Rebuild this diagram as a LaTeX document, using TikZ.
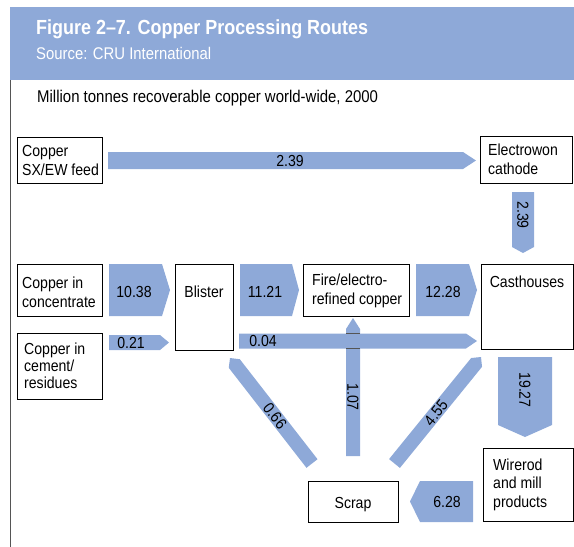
\documentclass[tikz,border=0pt]{standalone}
\usepackage{fontspec}
\setmainfont{Liberation Sans}[FakeStretch=0.88]
\usetikzlibrary{calc}
\definecolor{flowblue}{RGB}{142,169,216}
\definecolor{edgegray}{RGB}{85,85,85}
\newcommand\fatarrow[4]{% #1 start, #2 tip, #3 half width, #4 head length
  \path ($(#2)!#4!(#1)$) coordinate (fahead);
  \fill[flowblue] ($(#1)!#3!90:(#2)$) -- ($(fahead)!#3!90:(#2)$) -- (#2)
    -- ($(fahead)!#3!-90:(#2)$) -- ($(#1)!#3!-90:(#2)$) -- cycle;}
\tikzset{
  box/.style={draw=black, line width=1.1pt, fill=white, inner sep=0pt, anchor=north west},
  lbl/.style={font=\fontsize{16}{18.5}\selectfont, inner sep=0pt, align=left, anchor=base west},
  num/.style={font=\fontsize{16}{18}\selectfont, inner sep=0pt}
}
\begin{document}
\begin{tikzpicture}[x=1pt,y=-1pt]
\useasboundingbox (0,0) rectangle (574,547);
% header
\fill[flowblue] (10,7) rectangle (574,80);
\node[anchor=base west, inner sep=0pt, text=white, font=\bfseries\fontsize{20.4}{24}\selectfont] (title) at (36,34) {Figure 2–7. Copper Processing Routes};
\node[anchor=base west, inner sep=0pt, text=white, font=\fontsize{16.9}{20}\selectfont] (source) at (36,59) {Source: CRU International};
\draw[edgegray, line width=1pt] (10.5,80) -- (10.5,547);
\node[anchor=base west, inner sep=0pt, font=\fontsize{17}{20}\selectfont] (unit) at (37,102) {Million tonnes recoverable copper world-wide, 2000};

% flow arrows
\coordinate (a1s) at (108,160.5);  \coordinate (a1t) at (476,160.5);
\coordinate (a2s) at (523,192);    \coordinate (a2t) at (523,253);
\coordinate (a3s) at (109,290);    \coordinate (a3t) at (170,290);
\coordinate (a4s) at (240,290);    \coordinate (a4t) at (299,290);
\coordinate (a5s) at (416,290);    \coordinate (a5t) at (477,290);
\coordinate (a6s) at (109,342.5);  \coordinate (a6t) at (169,342.5);
\coordinate (a7s) at (239,341);    \coordinate (a7t) at (477,341);
\coordinate (a8s) at (353,456);    \coordinate (a8t) at (353,318);
\coordinate (a9s) at (312,463.5);  \coordinate (a9t) at (230,358);
\coordinate (a10s) at (394.5,463.5); \coordinate (a10t) at (481,357);
\coordinate (a11s) at (525,357);   \coordinate (a11t) at (525,437);
\coordinate (a12s) at (473,501.5); \coordinate (a12t) at (410,501.5);

\fatarrow{a1s}{a1t}{8.5pt}{13pt}
\fatarrow{a2s}{a2t}{11pt}{6pt}
\fatarrow{a3s}{a3t}{26pt}{8pt}
\fatarrow{a4s}{a4t}{26pt}{7pt}
\fatarrow{a5s}{a5t}{26pt}{8pt}
\fatarrow{a6s}{a6t}{7.5pt}{9pt}
\fatarrow{a7s}{a7t}{7.5pt}{11pt}
\fatarrow{a8s}{a8t}{7pt}{11pt}
\fatarrow{a9s}{a9t}{7pt}{7pt}
\fatarrow{a10s}{a10t}{7pt}{7pt}
\fatarrow{a11s}{a11t}{27pt}{12pt}
\fatarrow{a12s}{a12t}{20.5pt}{10pt}
\draw[edgegray, line width=1.3pt] (346,333.5) -- (360,333.5) (346,348.5) -- (360,348.5);

% boxes
\node[box, minimum width=85pt, minimum height=46pt] (sxew) at (17,137) {};
\node[box, minimum width=92pt, minimum height=47pt] (ewc) at (480,136) {};
\node[box, minimum width=85pt, minimum height=52pt] (conc) at (17,264) {};
\node[box, minimum width=58pt, minimum height=86pt] (blister) at (175,264) {};
\node[box, minimum width=106pt, minimum height=52pt] (fire) at (303,264) {};
\node[box, minimum width=92pt, minimum height=85pt] (cast) at (481,264) {};
\node[box, minimum width=85pt, minimum height=66pt] (cement) at (17,333) {};
\node[box, minimum width=90pt, minimum height=73pt] (wire) at (483,448) {};
\node[box, minimum width=90pt, minimum height=41pt] (scrap) at (308,481) {};

% box texts (base anchor = baseline of the last line)
\node[lbl] at (22,175) {Copper\\SX/EW feed};
\node[lbl] at (488,174) {Electrowon\\cathode};
\node[lbl] at (22,307) {Copper in\\concentrate};
\node[lbl, anchor=base] at (204,297) {Blister};
\node[lbl] at (312,304) {Fire/electro-\\refined copper};
\node[lbl, anchor=base] at (527,287) {Casthouses};
\node[lbl, font=\fontsize{16}{17}\selectfont] at (24,388) {Copper in\\cement/\\residues};
\node[lbl] at (493,507) {Wirerod\\and mill\\products};
\node[lbl, anchor=base] at (353,508) {Scrap};

% flow values
\node[num] at (290,161) {2.39};
\node[num, rotate=-90] at (523,215) {2.39};
\node[num] at (134,292) {10.38};
\node[num] at (265,292) {11.21};
\node[num] at (443,292) {12.28};
\node[num] at (131,343) {0.21};
\node[num] at (263,341) {0.04};
\node[num, rotate=-90] at (353,397) {1.07};
\node[num, rotate=-52] at (275,416) {0.66};
\node[num, rotate=51] at (436,413) {4.55};
\node[num, rotate=-90] at (525,390) {19.27};
\node[num] at (447,502) {6.28};
\end{tikzpicture}
\end{document}
